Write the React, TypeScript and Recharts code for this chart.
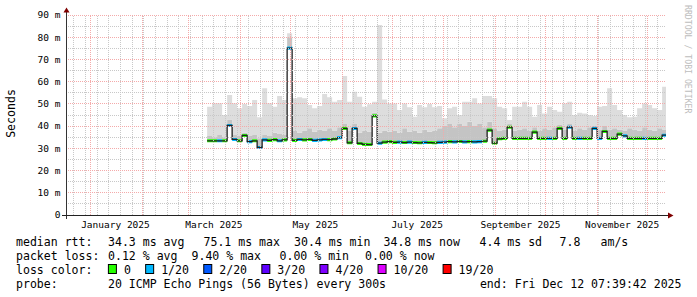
import React from "react"
import { ComposedChart, Area, Line, XAxis, YAxis, ReferenceLine } from "recharts"

// time axis in days since Jan 1 2025, graph covers the last 360 days
const END_DAY = 345 + (7 * 3600 + 39 * 60 + 42) / 86400
const START_DAY = END_DAY - 360

const monthStarts = [0, 31, 59, 90, 120, 151, 181, 212, 243, 273, 304, 334]
const labelDays = [15, 74, 135, 196, 258, 319]
const monthLabels = ["January 2025", "March 2025", "May 2025", "July 2025", "September 2025", "November 2025"]
const yTicks = [0, 10, 20, 30, 40, 50, 60, 70, 80, 90]

// one sample every 3 days starting Mar 12
const days = Array.from({ length: 93 }, (_, i) => 70 + 3 * i)

const median = [
  33.4, 33.4, 33.4, 33.4, 40.3, 34.0, 33.4, 35.8, 33.0, 33.4, 30.4, 33.8, 33.6, 33.9, 33.4, 33.8,
  75.1, 33.6, 34.0, 33.8, 34.0, 33.6, 33.8, 34.0, 33.9, 34.2, 34.8, 39.0, 32.5, 39.0, 32.2, 31.8,
  31.7, 44.6, 32.3, 32.8, 33.0, 32.7, 32.8, 32.6, 32.8, 32.6, 32.5, 32.7, 32.6, 32.5, 32.7, 32.8,
  33.0, 32.9, 33.1, 32.9, 33.0, 32.9, 33.0, 33.2, 38.2, 32.3, 34.3, 34.5, 39.5, 34.5, 34.5, 34.5,
  34.5, 37.3, 34.5, 34.5, 34.5, 34.5, 39.0, 34.5, 39.5, 34.5, 34.5, 34.5, 34.5, 39.0, 34.5, 37.6,
  34.5, 34.5, 36.4, 35.6, 34.5, 34.5, 34.5, 34.5, 34.5, 34.5, 34.5, 35.9, 34.8,
]

// pings lost out of 20
const loss = [
  0, 0, 1, 0, 1, 1, 0, 0, 1, 0, 1, 1, 0, 0, 1, 0,
  1, 0, 1, 0, 0, 1, 1, 1, 0, 0, 1, 0, 0, 1, 0, 0,
  0, 0, 1, 0, 0, 0, 1, 0, 1, 0, 0, 1, 0, 0, 1, 1,
  0, 1, 0, 1, 0, 1, 1, 0, 0, 0, 0, 0, 0, 0, 0, 0,
  0, 0, 0, 0, 1, 0, 0, 0, 1, 0, 1, 0, 0, 1, 1, 0,
  0, 0, 0, 1, 0, 0, 0, 1, 0, 0, 0, 1, 0,
]

// upper edge of the dense smoke
const smokeMid = [
  35.5, 35, 36, 35, 43, 36, 35.5, 37, 35.5, 36, 34.5, 36, 35.5, 37, 36.5, 36,
  80, 38, 37, 38, 39, 37.5, 38.5, 38, 39, 38, 39.5, 41, 38, 41, 37, 38,
  37.5, 46, 37, 38, 37.5, 38, 37, 39, 37.5, 38, 37, 38.5, 37.5, 38, 39, 40,
  41, 39.5, 41, 40, 42, 40, 41, 39.5, 42, 39, 38, 38.5, 41, 38, 38.5, 39,
  38, 39.5, 38, 39, 38.5, 39.5, 40.5, 38.5, 41, 38, 39, 38.5, 39.5, 40, 38.5, 40,
  38.5, 39, 38.5, 38, 39, 38.5, 38, 39.5, 38.5, 38, 39, 38.5, 38,
]

// slowest ping
const smokeMax = [
  48.7, 50.3, 50.3, 45, 54, 50.3, 48, 50, 49, 51.7, 44, 57, 50.3, 48.7, 53.5, 51.7,
  81.8, 52.5, 53, 52.5, 49.5, 48, 49, 54.5, 53, 51, 51.7, 62.5, 51, 55.5, 53.2, 48.7,
  49.8, 51, 85.5, 52, 50.2, 50.2, 47.2, 50.2, 48.5, 44.2, 49.5, 48.5, 50, 48.5, 49, 43.5,
  48, 48.7, 45, 51, 51, 52.5, 50.2, 53.5, 53.5, 52.5, 48.7, 48, 42.7, 48.7, 48.7, 51,
  48.7, 44.2, 49.5, 45.7, 48.7, 47.2, 46.5, 50.2, 51, 45, 46, 45.7, 45, 44.5, 48.7, 49,
  57, 49.5, 47.2, 45, 44, 44.2, 48, 50.2, 49.5, 48, 47.2, 57.7, 53.2,
]

const lossSteps = [0, 1, 2, 3, 4, 10, 19]
const lossLabels = ["0", "1/20", "2/20", "3/20", "4/20", "10/20", "19/20"]
const lossColors = ["#26ff00", "#00b8ff", "#0059ff", "#5e00ff", "#7e00ff", "#dd00ff", "#ff0000"]

const BAND = 1.4

const weekDays: number[] = []
for (let d = -10; d < END_DAY; d += 7) weekDays.push(d)
const minorY = [5, 15, 25, 35, 45, 55, 65, 75, 85]

function lossLevel(n: number) {
  let lvl = 0
  lossSteps.forEach((s, k) => { if (n >= s) lvl = k })
  return lvl
}

const rows = days.map((day, i) => {
  const row: any = {
    day,
    median: median[i],
    sBase: median[i],
    sMid: smokeMid[i] - median[i],
    sTop: smokeMax[i] - smokeMid[i],
    bBase: median[i] - BAND / 2,
  }
  const lvl = lossLevel(loss[i])
  lossSteps.forEach((_, k) => { row["b" + k] = k === lvl ? BAND : 0 })
  return row
})

const MONO = "DejaVu Sans Mono"
const rttItems = [
  ["34.3 ms avg", 108], ["75.1 ms max", 203.5], ["30.4 ms min", 294], ["34.8 ms now", 383.5],
  ["4.4 ms sd", 479.5], ["7.8", 559.5], ["am/s", 600.5],
] as const
const lossItems = [["0.12 % avg", 108], ["9.40 % max", 191.5], ["0.00 % min", 279.5], ["0.00 % now", 365]] as const

const GRID = "#c8c8c8"
const MGRID = "#f4aaaa"

function Overlay() {
  const t = { fontFamily: MONO, fontSize: 11.55, fill: "#000", whiteSpace: "pre" } as any
  let cursor = 108.4
  const boxes = lossLabels.map((lab, k) => {
    const bx = cursor
    const lx = bx + 15.5
    cursor = lx + lab.length * 6.95 + 14.8
    return (
      <g key={lab}>
        <rect x={bx} y={264.5} width={8} height={9} fill={lossColors[k]} stroke="#000" strokeWidth={1} />
        <text x={lx} y={273.5} style={t}>{lab}</text>
      </g>
    )
  })
  return (
    <svg width={697} height={297} style={{ position: "absolute", left: 0, top: 0, pointerEvents: "none" }}>
      <line x1={66.5} y1={219} x2={66.5} y2={11} stroke="#333" strokeWidth={1} />
      <polygon points="63.5,12.5 69.5,12.5 66.5,7.5" fill="#7f0000" />
      <line x1={62} y1={215.5} x2={669} y2={215.5} stroke="#222" strokeWidth={1} />
      <polygon points="668,212.5 668,218.5 673.5,215.5" fill="#7f0000" />
      <text transform="translate(15,113.5) rotate(-90)" textAnchor="middle" style={t}>Seconds</text>
      <text transform="translate(684.5,5) rotate(90)" style={{ fontFamily: MONO, fontSize: 8.2, fill: "#bdbdbd" }}>
        RRDTOOL / TOBI OETIKER
      </text>
      <text x={16} y={245.5} style={t}>median rtt:</text>
      {rttItems.map(([s, x]) => <text key={s} x={x} y={245.5} style={t}>{s}</text>)}
      <text x={16} y={259.5} style={t}>packet loss:</text>
      {lossItems.map(([s, x]) => <text key={s + x} x={x} y={259.5} style={t}>{s}</text>)}
      <text x={16} y={273.5} style={t}>loss color:</text>
      {boxes}
      <text x={16} y={287.5} style={t}>probe:</text>
      <text x={108} y={287.5} style={t}>20 ICMP Echo Pings (56 Bytes) every 300s</text>
      <text x={681.5} y={287.5} textAnchor="end" style={t}>end: Fri Dec 12 07:39:42 2025</text>
    </svg>
  )
}

export default function App() {
  return (
    <div style={{ position: "absolute", left: 0, top: 0, width: 697, height: 297, background: "#fff" }}>
      <ComposedChart width={697} height={297} data={rows} margin={{ top: 15, right: 31, bottom: 62, left: 0 }}>
        <XAxis
          type="number"
          dataKey="day"
          domain={[START_DAY, END_DAY]}
          allowDataOverflow
          ticks={labelDays}
          interval={0}
          tickFormatter={(v: number) => monthLabels[labelDays.indexOf(v)]}
          tick={{ fontSize: 9.5, fill: "#000", fontFamily: MONO }}
          axisLine={false}
          tickLine={false}
          tickSize={3}
          tickMargin={3}
          height={20}
        />
        <YAxis
          type="number"
          domain={[0, 90]}
          ticks={yTicks}
          interval={0}
          tickFormatter={(v: number) => (v === 0 ? "0" : `${v} m`)}
          tick={{ fontSize: 9.5, fill: "#000", fontFamily: MONO }}
          axisLine={false}
          tickLine={false}
          tickSize={3}
          tickMargin={2.5}
          width={66}
        />
        <Area type="stepAfter" dataKey="sBase" stackId="smoke" stroke="none" fill="none" isAnimationActive={false} />
        <Area type="stepAfter" dataKey="sMid" stackId="smoke" stroke="none" fill="#c4c4c4" fillOpacity={1} isAnimationActive={false} />
        <Area type="stepAfter" dataKey="sTop" stackId="smoke" stroke="none" fill="#dddddd" fillOpacity={1} isAnimationActive={false} />
        <Line type="stepAfter" dataKey="median" stroke="#202020" strokeWidth={1.3} dot={false} isAnimationActive={false} />
        <Area type="stepAfter" dataKey="bBase" stackId="band" stroke="none" fill="none" isAnimationActive={false} />
        {lossSteps.map((_, k) => (
          <Area key={k} type="stepAfter" dataKey={"b" + k} stackId="band" stroke="none" fill={lossColors[k]} fillOpacity={1} isAnimationActive={false} />
        ))}
        {weekDays.map((d) => (
          <ReferenceLine key={"w" + d} x={d} stroke={GRID} strokeDasharray="1 1" shapeRendering="crispEdges" />
        ))}
        {minorY.map((v) => (
          <ReferenceLine key={"h" + v} y={v} stroke={GRID} strokeDasharray="1 1" shapeRendering="crispEdges" />
        ))}
        {monthStarts.map((d) => (
          <ReferenceLine key={"m" + d} x={d} stroke={MGRID} strokeDasharray="1 1" shapeRendering="crispEdges" />
        ))}
        {yTicks.slice(1).map((v) => (
          <ReferenceLine key={"g" + v} y={v} stroke={MGRID} strokeDasharray="1 1" shapeRendering="crispEdges" />
        ))}
      </ComposedChart>
      <Overlay />
    </div>
  )
}
